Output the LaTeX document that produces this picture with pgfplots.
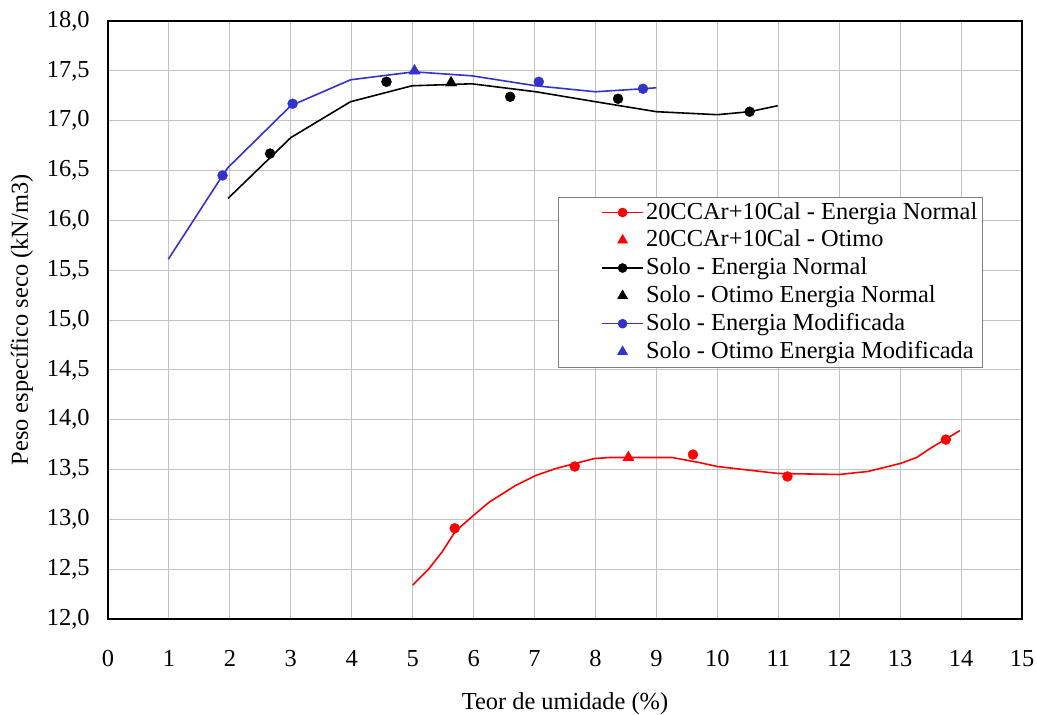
\documentclass[border=0pt]{standalone}
\usepackage{pgfplots}
\pgfplotsset{compat=1.18}
\usepackage{fontspec}
\setmainfont{Liberation Serif}
\definecolor{myblue}{RGB}{51,51,204}
\definecolor{gridgray}{RGB}{195,195,195}
\newcommand{\myfont}{\rmfamily\fontsize{24.5}{27}\selectfont}
\begin{document}
\myfont
\begin{tikzpicture}
\begin{axis}[
  scale only axis,
  width=914bp, height=598bp,
  xmin=0, xmax=15, ymin=12, ymax=18,
  xtick={0,1,...,15},
  xticklabels={0,1,2,3,4,5,6,7,8,9,10,11,12,13,14,15},
  ytick={12,12.5,13,13.5,14,14.5,15,15.5,16,16.5,17,17.5,18},
  yticklabels={{12,0},{12,5},{13,0},{13,5},{14,0},{14,5},{15,0},{15,5},{16,0},{16,5},{17,0},{17,5},{18,0}},
  grid=major,
  major grid style={gridgray, line width=1pt},
  major tick length=0pt,
  axis line style={black, line width=1.3pt},
  tick label style={font=\myfont},
  xticklabel shift=23bp,
  yticklabel shift=10bp,
  xlabel={Teor de umidade (\%)},
  ylabel={Peso específico seco (kN/m3)},
  label style={font=\myfont},
  xlabel style={at={(axis description cs:0.5,0)}, anchor=center, yshift=-85bp},
  ylabel style={at={(axis description cs:0,0.5)}, anchor=center, yshift=86bp},
  legend style={at={(0.957,0.706)}, anchor=north east, draw=gray, line width=0.8pt,
    font=\myfont, fill=white, inner sep=3pt,
    row sep=3.2pt, legend cell align=left},
]
% Red line
\addplot[red, line width=1.6pt, forget plot] coordinates {
(5,12.34) (5.26,12.50) (5.48,12.67) (5.7,12.88) (6.0,13.04) (6.25,13.17) (6.69,13.34) (7.02,13.44) (7.35,13.51) (7.98,13.61)
(8.22,13.62) (9.26,13.62) (9.7,13.57) (10.0,13.53) (11.0,13.46) (12.0,13.45) (12.47,13.48) (13.0,13.56) (13.27,13.62)
(13.49,13.71) (13.76,13.81) (13.98,13.89)};
\addplot[only marks, red, mark=*, mark size=5pt, forget plot] coordinates {
(5.69,12.91) (7.66,13.53) (9.6,13.65) (11.15,13.43) (13.75,13.80)};
\addplot[only marks, red, mark=triangle*, mark size=6.5pt, forget plot] coordinates {(8.54,13.62)};
% Black line
\addplot[black, line width=1.6pt, forget plot] coordinates {
(1.97,16.22) (3.0,16.83) (3.98,17.19) (4.99,17.35) (5.97,17.37) (7.02,17.29) (8.0,17.19) (9.0,17.09) (10.0,17.06) (10.53,17.09) (10.99,17.15)};
\addplot[only marks, black, mark=*, mark size=5pt, forget plot] coordinates {
(2.66,16.67) (4.57,17.39) (6.6,17.24) (8.37,17.22) (10.53,17.09)};
\addplot[only marks, black, mark=triangle*, mark size=6.5pt, forget plot] coordinates {(5.63,17.38)};
% Blue line
\addplot[myblue, line width=1.6pt, forget plot] coordinates {
(0.99,15.61) (1.88,16.45) (1.97,16.53) (3.0,17.15) (3.98,17.41) (5.02,17.49) (5.97,17.45) (7.02,17.35) (8.0,17.29) (8.77,17.32) (9.0,17.33)};
\addplot[only marks, myblue, mark=*, mark size=5pt, forget plot] coordinates {
(1.88,16.45) (3.03,17.17) (7.07,17.39) (8.78,17.32)};
\addplot[only marks, myblue, mark=triangle*, mark size=6.5pt, forget plot] coordinates {(5.03,17.5)};
% Legend
\addlegendimage{red, line width=1.6pt, mark=*, mark size=4pt, legend image code/.code={
  \path[draw=none,fill=none] (-1.45cm,0cm) -- (0cm,0cm);
  \draw[mark repeat=2,mark phase=2] plot coordinates {(0cm,0cm) (0.72cm,0cm) (1.45cm,0cm)};}}
\addlegendentry{20CCAr+10Cal - Energia Normal}
\addlegendimage{red, mark=triangle*, mark size=5.5pt, legend image code/.code={
  \path[draw=none,fill=none] (-1.45cm,0cm) -- (1.45cm,0cm);
  \path[draw=none] plot coordinates {(0.72cm,0cm)};}}
\addlegendentry{20CCAr+10Cal - Otimo}
\addlegendimage{black, line width=1.6pt, mark=*, mark size=4pt, legend image code/.code={
  \path[draw=none,fill=none] (-1.45cm,0cm) -- (0cm,0cm);
  \draw[mark repeat=2,mark phase=2] plot coordinates {(0cm,0cm) (0.72cm,0cm) (1.45cm,0cm)};}}
\addlegendentry{Solo - Energia Normal}
\addlegendimage{black, mark=triangle*, mark size=5.5pt, legend image code/.code={
  \path[draw=none,fill=none] (-1.45cm,0cm) -- (1.45cm,0cm);
  \path[draw=none] plot coordinates {(0.72cm,0cm)};}}
\addlegendentry{Solo - Otimo Energia Normal}
\addlegendimage{myblue, line width=1.6pt, mark=*, mark size=4pt, legend image code/.code={
  \path[draw=none,fill=none] (-1.45cm,0cm) -- (0cm,0cm);
  \draw[mark repeat=2,mark phase=2] plot coordinates {(0cm,0cm) (0.72cm,0cm) (1.45cm,0cm)};}}
\addlegendentry{Solo - Energia Modificada}
\addlegendimage{myblue, mark=triangle*, mark size=5.5pt, legend image code/.code={
  \path[draw=none,fill=none] (-1.45cm,0cm) -- (1.45cm,0cm);
  \path[draw=none] plot coordinates {(0.72cm,0cm)};}}
\addlegendentry{Solo - Otimo Energia Modificada}
\end{axis}
\pgfresetboundingbox
\path (current axis.south west) ++(-108bp,-96bp) rectangle ++(1037bp,715bp);
\end{tikzpicture}
\end{document}
